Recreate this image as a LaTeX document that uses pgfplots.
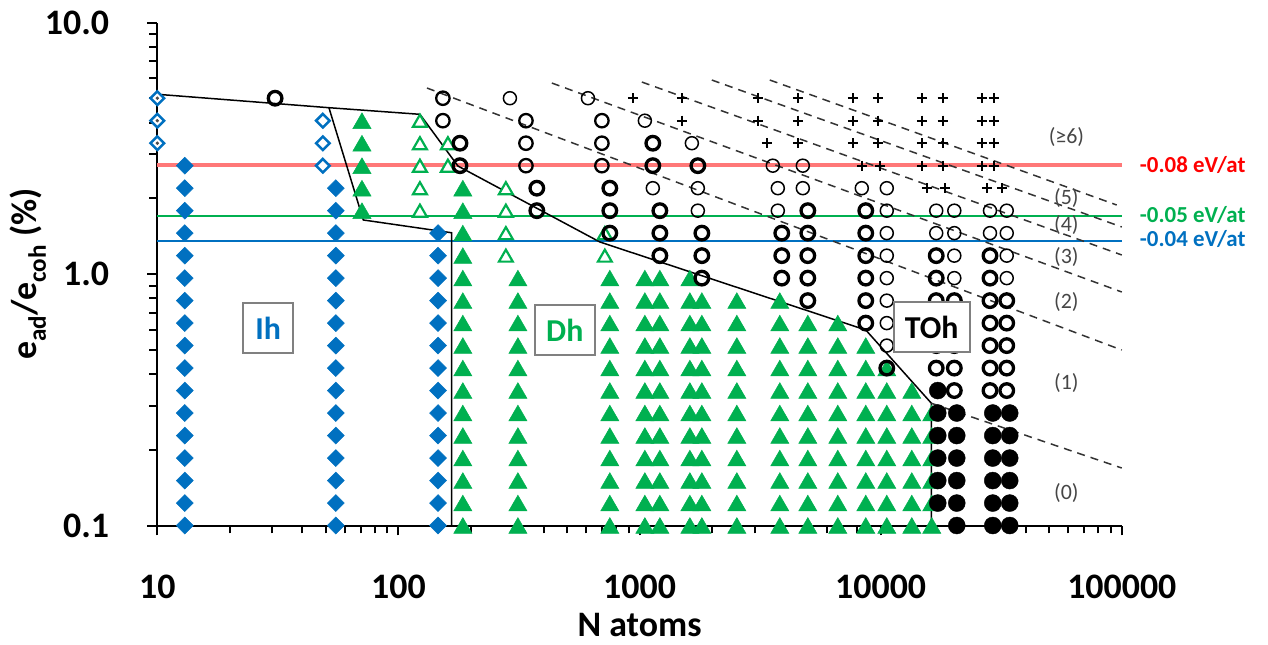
\documentclass[border=0pt]{standalone}
\usepackage{fontspec}
\setmainfont{Carlito}
\usepackage{pgfplots}
\pgfplotsset{compat=1.18}
\definecolor{ihblue}{RGB}{0,112,192}
\definecolor{dhgreen}{RGB}{0,176,80}
\definecolor{lred}{RGB}{255,120,120}
\definecolor{tred}{RGB}{255,0,0}
\definecolor{lblgray}{RGB}{70,70,70}
\definecolor{boxgray}{RGB}{128,128,128}
\pgfplotsset{
  ihd/.style={only marks, mark=square*, mark size=6bp, mark options={rotate=45, fill=ihblue, draw=ihblue, line width=0.5bp}},
  ihdo/.style={only marks, mark=square*, mark size=4.8bp, mark options={rotate=45, fill=white, draw=ihblue, line width=2.5bp}},
  dht/.style={only marks, mark=triangle*, mark size=10.5bp, mark options={fill=dhgreen, draw=dhgreen, line width=0.5bp, yshift=-2.6bp}},
  dho/.style={only marks, mark=triangle*, mark size=8bp, mark options={fill=white, draw=dhgreen, line width=2.2bp, yshift=-2bp}},
  cbold/.style={only marks, mark=o, mark size=6.8bp, mark options={draw=black, line width=3.3bp}},
  cmed/.style={only marks, mark=o, mark size=6.7bp, mark options={draw=black, line width=2.3bp}},
  cthin/.style={only marks, mark=o, mark size=6.5bp, mark options={draw=black, line width=1.5bp}},
  cfill/.style={only marks, mark=*, mark size=8.5bp, mark options={fill=black, draw=black}},
  pls/.style={only marks, mark=+, mark size=5bp, mark options={draw=black, line width=2bp}},
}
\begin{document}
\begin{tikzpicture}
\path[use as bounding box] (-157.3bp,-119.5bp) rectangle (1110.7bp,525.5bp);
\begin{axis}[
  at={(0,0)}, anchor=south west,
  scale only axis, width=964.5bp, height=503bp,
  xmode=log, ymode=log,
  xmin=10, xmax=100000, ymin=0.1, ymax=10,
  axis x line=bottom, axis y line=left,
  axis line style={-, line width=2bp, black},
  clip=false,
  tick align=outside,
  major tick length=10bp, minor tick length=8bp,
  tick style={line width=2bp, black},
  xtick={10,100,1000,10000,100000},
  xticklabels={10,100,1000,10000,100000},
  minor xtick={20,30,40,50,60,70,80,90,200,300,400,500,600,700,800,900,2000,3000,4000,5000,6000,7000,8000,9000,20000,30000,40000,50000,60000,70000,80000,90000},
  ytick={0.1,1,10},
  yticklabels={0.1,1.0,10.0},
  minor ytick={0.2,0.3,0.4,0.5,0.6,0.7,0.8,0.9,2,3,4,5,6,7,8,9},
  xticklabel style={anchor=center, inner sep=0pt, yshift=-51bp, font=\fontsize{36}{36}\selectfont\bfseries},
  yticklabel style={anchor=east, inner sep=0pt, xshift=-38bp, font=\fontsize{36}{36}\selectfont\bfseries},
  xlabel={N atoms},
  xlabel style={at={(axis description cs:0.5,-0.198)}, anchor=center, inner sep=0pt, font=\fontsize{36}{36}\selectfont\bfseries},
  ylabel={e\textsubscript{ad}/e\textsubscript{coh} (\%)},
  ylabel style={at={(axis description cs:-0.134,0.5)}, anchor=center, inner sep=0pt, font=\fontsize{36}{36}\selectfont\bfseries},
]
% horizontal energy lines
\addplot[lred, line width=3.5bp] coordinates {(10,2.712)(100000,2.712)};
\addplot[dhgreen, line width=2bp] coordinates {(10,1.695)(100000,1.695)};
\addplot[ihblue, line width=2bp] coordinates {(10,1.356)(100000,1.356)};

% Ih filled diamonds
\addplot[ihd] coordinates {
(13,0.1)(13,0.1228)(13,0.1509)(13,0.1854)(13,0.2278)(13,0.28)(13,0.344)(13,0.4226)(13,0.5192)(13,0.638)(13,0.7838)(13,0.963)(13,1.183)(13,1.454)(13,1.786)(13,2.194)(13,2.696)
(55,0.1)(55,0.1228)(55,0.1509)(55,0.1854)(55,0.2278)(55,0.28)(55,0.344)(55,0.4226)(55,0.5192)(55,0.638)(55,0.7838)(55,0.963)(55,1.183)(55,1.454)(55,1.786)(55,2.194)
(146,0.1)(146,0.1228)(146,0.1509)(146,0.1854)(146,0.2278)(146,0.28)(146,0.344)(146,0.4226)(146,0.5192)(146,0.638)(146,0.7838)(146,0.963)(146,1.183)(146,1.454)
};
% Ih open diamonds
\addplot[ihdo] coordinates {(10,3.312)(10,4.07)(10,5.0)(48.6,2.696)(48.6,3.312)(48.6,4.07)};
\addplot[only marks, mark=*, mark size=1.5bp, mark options={fill=black!70, draw=black!70}] coordinates {(10,3.312)(10,4.07)(10,5.0)};

% Dh filled triangles
\addplot[dht] coordinates {
(70.6,1.786)(70.6,2.194)(70.6,2.696)(70.6,3.312)(70.6,4.07)
(185,0.1)(185,0.1228)(185,0.1509)(185,0.1854)(185,0.2278)(185,0.28)(185,0.344)(185,0.4226)(185,0.5192)(185,0.638)(185,0.7838)(185,0.963)(185,1.183)(185,1.454)(185,1.786)(185,2.194)
(313,0.1)(313,0.1228)(313,0.1509)(313,0.1854)(313,0.2278)(313,0.28)(313,0.344)(313,0.4226)(313,0.5192)(313,0.638)(313,0.7838)(313,0.963)
(753,0.1)(753,0.1228)(753,0.1509)(753,0.1854)(753,0.2278)(753,0.28)(753,0.344)(753,0.4226)(753,0.5192)(753,0.638)(753,0.7838)(753,0.963)
(1052,0.1)(1052,0.1228)(1052,0.1509)(1052,0.1854)(1052,0.2278)(1052,0.28)(1052,0.344)(1052,0.4226)(1052,0.5192)(1052,0.638)(1052,0.7838)(1052,0.963)
(1214,0.1)(1214,0.1228)(1214,0.1509)(1214,0.1854)(1214,0.2278)(1214,0.28)(1214,0.344)(1214,0.4226)(1214,0.5192)(1214,0.638)(1214,0.7838)(1214,0.963)
(1617,0.1)(1617,0.1228)(1617,0.1509)(1617,0.1854)(1617,0.2278)(1617,0.28)(1617,0.344)(1617,0.4226)(1617,0.5192)(1617,0.638)(1617,0.7838)(1617,0.963)
(1813,0.1)(1813,0.1228)(1813,0.1509)(1813,0.1854)(1813,0.2278)(1813,0.28)(1813,0.344)(1813,0.4226)(1813,0.5192)(1813,0.638)(1813,0.7838)
(2532,0.1)(2532,0.1228)(2532,0.1509)(2532,0.1854)(2532,0.2278)(2532,0.28)(2532,0.344)(2532,0.4226)(2532,0.5192)(2532,0.638)(2532,0.7838)
(3817,0.1)(3817,0.1228)(3817,0.1509)(3817,0.1854)(3817,0.2278)(3817,0.28)(3817,0.344)(3817,0.4226)(3817,0.5192)(3817,0.638)(3817,0.7838)
(4987,0.1)(4987,0.1228)(4987,0.1509)(4987,0.1854)(4987,0.2278)(4987,0.28)(4987,0.344)(4987,0.4226)(4987,0.5192)(4987,0.638)
(6640,0.1)(6640,0.1228)(6640,0.1509)(6640,0.1854)(6640,0.2278)(6640,0.28)(6640,0.344)(6640,0.4226)(6640,0.5192)(6640,0.638)
(8674,0.1)(8674,0.1228)(8674,0.1509)(8674,0.1854)(8674,0.2278)(8674,0.28)(8674,0.344)(8674,0.4226)(8674,0.5192)
(10600,0.1)(10600,0.1228)(10600,0.1509)(10600,0.1854)(10600,0.2278)(10600,0.28)(10600,0.344)(10600,0.4226)
(13460,0.1)(13460,0.1228)(13460,0.1509)(13460,0.1854)(13460,0.2278)(13460,0.28)(13460,0.344)
(16290,0.1)(16290,0.1228)(16290,0.1509)(16290,0.1854)(16290,0.2278)(16290,0.28)
};
% Dh open triangles
\addplot[dho] coordinates {
(122.8,1.786)(122.8,2.194)(122.8,2.696)(122.8,3.312)(122.8,4.07)
(160.4,2.696)(160.4,3.312)
(279,1.183)(279,1.454)(279,1.786)(279,2.194)
(718,1.183)(718,1.454)
};
% TOh filled circles
\addplot[cfill] coordinates {
(17250,0.1228)(17250,0.1509)(17250,0.1854)(17250,0.2278)(17250,0.28)(17250,0.344)
(20680,0.1)(20680,0.1228)(20680,0.1509)(20680,0.1854)(20680,0.2278)(20680,0.28)
(29160,0.1)(29160,0.1228)(29160,0.1509)(29160,0.1854)(29160,0.2278)(29160,0.28)
(34300,0.1)(34300,0.1228)(34300,0.1509)(34300,0.1854)(34300,0.2278)(34300,0.28)
};
% bold open circles
\addplot[cbold] coordinates {
(30.8,5.0)
(180,2.696)(180,3.312)
(375,1.786)(375,2.194)
(753,1.454)(753,1.786)(753,2.194)
(1135,2.696)(1135,3.312)
(1214,1.183)(1214,1.454)(1214,1.786)
(1813,0.963)(1813,1.183)(1813,1.454)(1745,2.696)
(3890,0.963)(3890,1.183)(3890,1.454)
(4987,0.7838)(4987,0.963)(4987,1.183)(4987,1.454)(4987,1.786)
(8674,0.638)(8674,0.7838)(8674,0.963)(8674,1.183)(8674,1.454)(8674,1.786)
(10600,0.4226)
(17000,0.4226)(17000,0.5192)(17000,0.638)(17000,0.7838)(17000,0.963)(17000,1.183)
(20200,0.344)(20200,0.4226)(20200,0.5192)(20200,0.638)(20200,0.7838)
(28400,0.344)(28400,0.4226)(28400,0.5192)(28400,0.638)(28400,0.7838)(28400,0.963)(28400,1.183)
(33330,0.344)(33330,0.4226)(33330,0.5192)(33330,0.638)(33330,0.7838)
};
% medium open circles
\addplot[cmed] coordinates {
(152.9,4.07)(152.9,5.0)
(338,2.696)(338,3.312)(338,4.07)
(698,2.696)(698,3.312)(698,4.07)
};
% thin open circles
\addplot[cthin] coordinates {
(290,5.0)(611,5.0)(1052,4.07)(1135,2.194)(1648,3.312)
(1745,1.786)(1745,2.194)
(3570,2.696)(3745,1.786)(3745,2.194)
(4754,2.194)(4754,2.696)
(8349,2.194)
(10600,0.5192)(10600,0.638)(10600,0.7838)(10600,0.963)(10600,1.183)(10600,1.454)(10600,1.786)(10600,2.194)
(17000,1.454)(17000,1.786)
(20200,0.963)(20200,1.183)(20200,1.454)(20200,1.786)
(28400,1.454)(28400,1.786)
(33330,0.963)(33330,1.183)(33330,1.454)(33330,1.786)
};
% plus markers
\addplot[pls] coordinates {
(938,5.0)
(1497,4.07)(1497,5.0)
(3094,4.07)(3094,5.0)(3372,3.312)
(4532,3.312)(4532,4.07)(4532,5.0)
(7662,3.312)(7662,4.07)(7662,5.0)(8349,2.696)
(9727,3.312)(9727,4.07)(9727,5.0)(9915,2.696)
(14810,2.696)(14810,3.312)(14810,4.07)(14810,5.0)(15530,2.194)
(18090,2.696)(18090,3.312)(18090,4.07)(18090,5.0)(18440,2.194)
(26250,2.696)(26250,3.312)(26250,4.07)(26250,5.0)(27540,2.194)
(29430,2.696)(29430,3.312)(29430,4.07)(29430,5.0)(31780,2.194)
};

% boundaries
\addplot[black, line width=1.5bp] coordinates {(10,5.183)(51.5,4.584)(122.8,4.315)(176.5,2.688)(684.6,1.3406)(8674,0.599)(16240,0.3061)(16240,0.1)};
\addplot[black, line width=1.5bp] coordinates {(51.5,4.584)(71.5,1.640)(166.2,1.459)(166.2,0.1)};
% dashed boundaries
\addplot[black!80, line width=1.5bp, dash pattern=on 8bp off 6bp] coordinates {(16240,0.3061)(100000,0.1693)};
\addplot[black!80, line width=1.5bp, dash pattern=on 8bp off 6bp] coordinates {(131.3,5.49)(100000,0.4985)};
\addplot[black!80, line width=1.5bp, dash pattern=on 8bp off 6bp] coordinates {(432.9,5.745)(100000,0.848)};
\addplot[black!80, line width=1.5bp, dash pattern=on 8bp off 6bp] coordinates {(1022,5.799)(100000,1.19)};
\addplot[black!80, line width=1.5bp, dash pattern=on 8bp off 6bp] coordinates {(1994,5.906)(100000,1.538)};
\addplot[black!80, line width=1.5bp, dash pattern=on 8bp off 6bp] coordinates {(3469,5.906)(95240,1.881)};

% anchor points for region boxes
\coordinate (ihc) at (axis cs:28.8,0.61);
\coordinate (dhc) at (axis cs:490,0.599);
\coordinate (tohc) at (axis cs:16290,0.6157);

% shell count labels
\node[text=lblgray, font=\fontsize{22}{22}\selectfont] at (axis cs:58930,3.515) {(≥6)};
\node[text=lblgray, font=\fontsize{22}{22}\selectfont] at (axis cs:58930,2.0) {(5)};
\node[text=lblgray, font=\fontsize{22}{22}\selectfont] at (axis cs:58930,1.566) {(4)};
\node[text=lblgray, font=\fontsize{22}{22}\selectfont] at (axis cs:58930,1.172) {(3)};
\node[text=lblgray, font=\fontsize{22}{22}\selectfont] at (axis cs:58930,0.776) {(2)};
\node[text=lblgray, font=\fontsize{22}{22}\selectfont] at (axis cs:58930,0.3677) {(1)};
\node[text=lblgray, font=\fontsize{22}{22}\selectfont] at (axis cs:58930,0.1343) {(0)};

% energy labels
\node[anchor=west, inner sep=0pt, text=tred, font=\fontsize{23}{23}\selectfont\bfseries] at (axis cs:118700,2.712) {-0.08 eV/at};
\node[anchor=west, inner sep=0pt, text=dhgreen, font=\fontsize{23}{23}\selectfont\bfseries] at (axis cs:118700,1.717) {-0.05 eV/at};
\node[anchor=west, inner sep=0pt, text=ihblue, font=\fontsize{23}{23}\selectfont\bfseries] at (axis cs:118700,1.384) {-0.04 eV/at};
\end{axis}
% region boxes drawn on top of all markers
\node[draw=boxgray, fill=white, line width=1.5bp, minimum width=50bp, minimum height=50bp, inner sep=0pt, text=ihblue, font=\fontsize{32}{32}\selectfont\bfseries] at (ihc) {Ih};
\node[draw=boxgray, fill=white, line width=1.5bp, minimum width=60bp, minimum height=50bp, inner sep=0pt, text=dhgreen, font=\fontsize{32}{32}\selectfont\bfseries] at (dhc) {Dh};
\node[draw=boxgray, fill=white, line width=1.5bp, minimum width=76bp, minimum height=50bp, inner sep=0pt, text=black, font=\fontsize{32}{32}\selectfont\bfseries] at (tohc) {TOh};
\end{tikzpicture}
\end{document}
